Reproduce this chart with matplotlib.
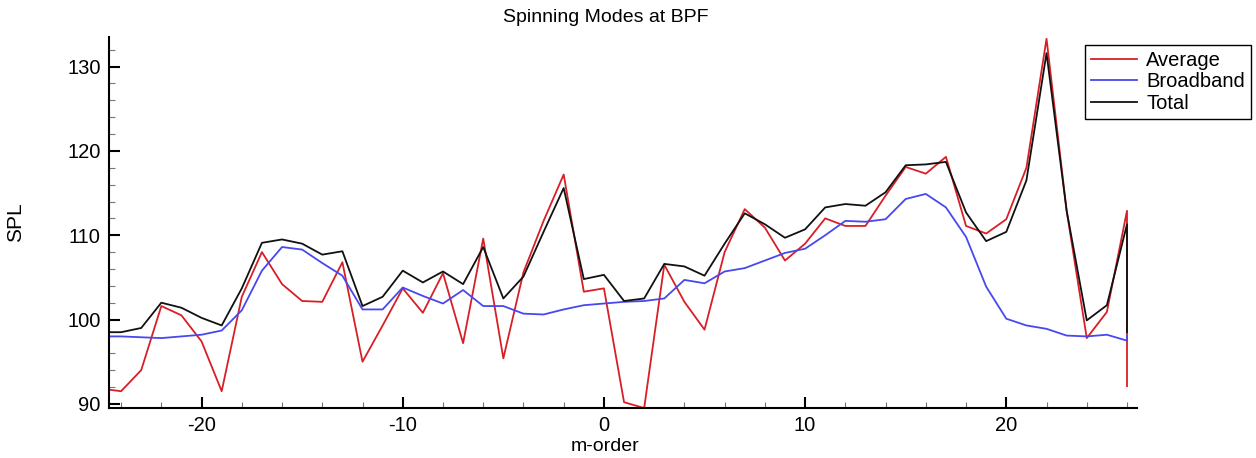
import numpy as np
import matplotlib.pyplot as plt
from matplotlib.ticker import MultipleLocator

plt.rcParams['font.family'] = ['Liberation Sans', 'DejaVu Sans']
plt.rcParams['axes.unicode_minus'] = False

# m-order, the last mode is repeated (wrap back to the first values)
m_order = list(range(-25, 27)) + [26]

spl_average = [91.8, 91.5, 94.0, 101.6, 100.5, 97.4, 91.5, 102.7, 108.0, 104.2,
               102.2, 102.1, 106.8, 95.0, 99.3, 103.7, 100.8, 105.5, 97.2, 109.6,
               95.4, 105.6, 111.7, 117.2, 103.3, 103.7, 90.2, 89.5, 106.5, 102.1,
               98.8, 108.0, 113.1, 110.9, 107.0, 109.0, 112.0, 111.1, 111.1, 114.7,
               118.1, 117.3, 119.3, 111.1, 110.2, 111.9, 118.0, 133.3, 112.9, 97.8,
               100.9, 112.9, 92.1]
spl_broadband = [98.0, 98.0, 97.9, 97.8, 98.0, 98.2, 98.7, 101.1, 105.8, 108.6,
                 108.3, 106.7, 105.2, 101.2, 101.2, 103.8, 102.8, 101.9, 103.5, 101.6,
                 101.6, 100.7, 100.6, 101.2, 101.7, 101.9, 102.1, 102.2, 102.5, 104.7,
                 104.3, 105.7, 106.1, 107.0, 107.9, 108.4, 110.0, 111.7, 111.6, 111.9,
                 114.3, 114.9, 113.3, 109.8, 103.9, 100.1, 99.3, 98.9, 98.1, 98.0,
                 98.2, 97.5, 98.0]
spl_total = [98.5, 98.5, 99.0, 102.0, 101.4, 100.2, 99.3, 103.7, 109.1, 109.5,
             109.0, 107.7, 108.1, 101.6, 102.7, 105.8, 104.4, 105.7, 104.2, 108.6,
             102.5, 105.1, 110.4, 115.6, 104.8, 105.3, 102.2, 102.5, 106.6, 106.3,
             105.2, 109.0, 112.6, 111.3, 109.7, 110.7, 113.3, 113.7, 113.5, 115.1,
             118.3, 118.4, 118.7, 112.7, 109.3, 110.4, 116.5, 131.6, 112.9, 99.9,
             101.7, 111.3, 98.5]

fig = plt.figure(figsize=(12.56, 4.58), dpi=100)
ax = fig.add_axes([0.0868, 0.109, 0.8185, 0.81])

ax.plot(m_order, spl_average, color='#d81f26', lw=1.3, label='Average')
ax.plot(m_order, spl_broadband, color='#4848ee', lw=1.3, label='Broadband')
ax.plot(m_order, spl_total, color='#111111', lw=1.3, label='Total')

ax.set_xlim(-24.6, 26.5)
ax.set_ylim(89.5, 133.5)

for s in ['top', 'right']:
    ax.spines[s].set_visible(False)
for s in ['left', 'bottom']:
    ax.spines[s].set_linewidth(1.5)

ax.xaxis.set_major_locator(MultipleLocator(10))
ax.xaxis.set_minor_locator(MultipleLocator(2))
ax.yaxis.set_major_locator(MultipleLocator(10))
ax.yaxis.set_minor_locator(MultipleLocator(2))
ax.tick_params(which='major', direction='in', length=8, width=1.5, labelsize=14.5, pad=6)
ax.tick_params(which='minor', direction='in', length=4, width=0.8, color='#777777')

ax.set_title('Spinning Modes at BPF', fontsize=14, x=0.483, pad=11)
ax.set_xlabel('m-order', fontsize=14, x=0.483, labelpad=2)
ax.set_ylabel('SPL', fontsize=15, labelpad=30)

leg = ax.legend(loc='upper left', bbox_to_anchor=(1085 / 1256, 1 - 45 / 458),
                bbox_transform=fig.transFigure, fontsize=14.5, fancybox=False,
                framealpha=1, edgecolor='black', borderaxespad=0,
                handlelength=2.3, labelspacing=0.12, borderpad=0.3, handletextpad=0.45)
leg.get_frame().set_linewidth(1.0)

fig.savefig('out.png', dpi=100)
